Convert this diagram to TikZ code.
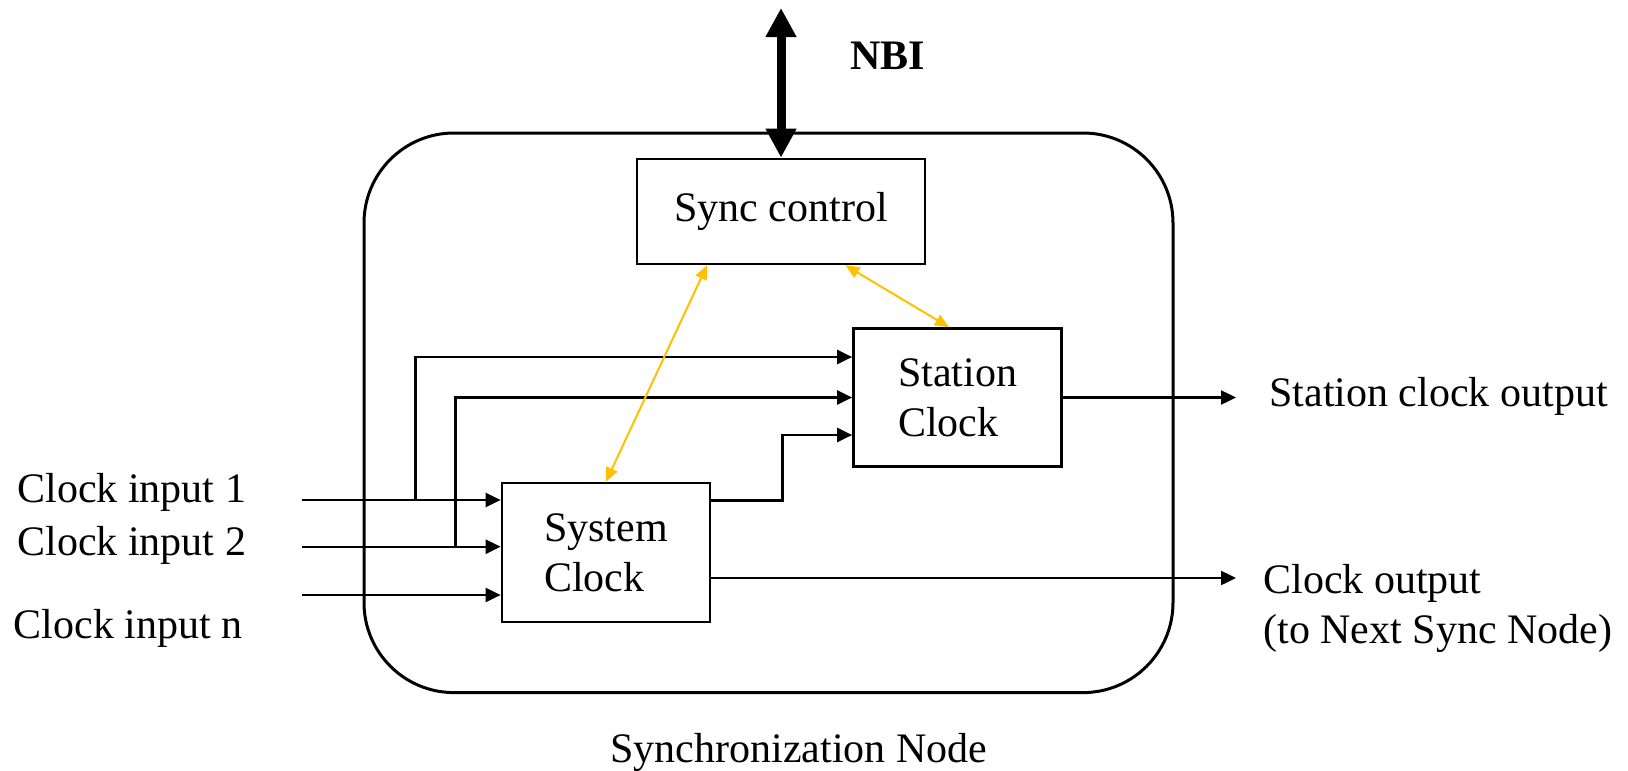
\documentclass[tikz,border=0pt]{standalone}
\usepackage{fontspec}
\setmainfont{Liberation Serif}
\usetikzlibrary{arrows.meta}
\definecolor{syncgold}{RGB}{255,192,0}

\begin{document}
\begin{tikzpicture}[x=0.5pt,y=-0.5pt,
  font=\fontsize{21pt}{25pt}\selectfont,
  block/.style={draw, line width=1.35pt, inner sep=0pt, align=left},
  wire/.style={line width=1.2pt, -{Triangle[length=7.5pt,width=7pt]}},
  ctrl/.style={draw=syncgold, line width=1pt, {Triangle[length=7pt,width=6pt]}-{Triangle[length=7pt,width=6pt]}},
  lbl/.style={inner sep=0pt, anchor=base west, align=left}]

\useasboundingbox (0,0) rectangle (1628,771);

%% node frame
\node[draw, line width=1.5pt, rounded corners=45pt, minimum width=404.5pt, minimum height=279.8pt] (frame) at (768.5,412.8) {};
\node[inner sep=0pt, anchor=base] (framelbl) at (799,762) {Synchronization Node};

%% blocks
\node[block, minimum width=144pt, minimum height=52.5pt] (sync) at (781,211.5) {Sync control};
\node[block, minimum width=104pt, minimum height=69.5pt] (sys) at (606,552.5) {System\\Clock};
\node[block, minimum width=104pt, minimum height=69pt] (station) at (957.5,397.5) {Station\\Clock};

%% NBI
\coordinate (nbi) at (781,8);
\draw[line width=4.5pt, {Triangle[length=14.5pt,width=14.5pt]}-{Triangle[length=14.5pt,width=14.5pt]}] (nbi) -- (sync.north);
\node[lbl, font=\fontsize{21pt}{25pt}\selectfont\bfseries] (nbilbl) at (850,69) {NBI};

%% clock inputs
\coordinate (in1) at (301.5,500);
\coordinate (in2) at (301.5,546.7);
\coordinate (in3) at (301.5,595);
\draw[wire] (in1) -- (in1 -| sys.west);
\draw[wire] (in2) -- (in2 -| sys.west);
\draw[wire] (in3) -- (in3 -| sys.west);
\node[lbl] (inlbl1) at (17,502.7) {Clock input 1};
\node[lbl] (inlbl2) at (17,555) {Clock input 2};
\node[lbl] (inlbl3) at (13.5,638.5) {Clock input n};

%% inputs to station clock
\coordinate (br1) at (415.5,500);
\coordinate (br2) at (455.5,546.7);
\draw[wire] (br1) |- ([yshift=20.25pt]station.west);
\draw[wire] (br2) |- (station.west);
\draw[wire] ([yshift=26pt]sys.east) -- ++(71,0) |- ([yshift=-18.75pt]station.west);

%% outputs
\coordinate (sout) at (1236,397.5);
\coordinate (cout) at (1236,578);
\draw[wire] (station.east) -- (sout);
\draw[wire] ([yshift=-12.75pt]sys.east) -- (cout);
\node[lbl] (soutlbl) at (1269,406.7) {Station clock output};
\node[inner sep=0pt, anchor=west, align=left] (coutlbl) at (1263,608) {Clock output\\(to Next Sync Node)};

%% control links
\draw[ctrl] ([xshift=-37pt]sync.south) -- (sys.north);
\draw[ctrl] ([xshift=32.25pt]sync.south) -- ([xshift=-4.25pt]station.north);

\end{tikzpicture}
\end{document}
